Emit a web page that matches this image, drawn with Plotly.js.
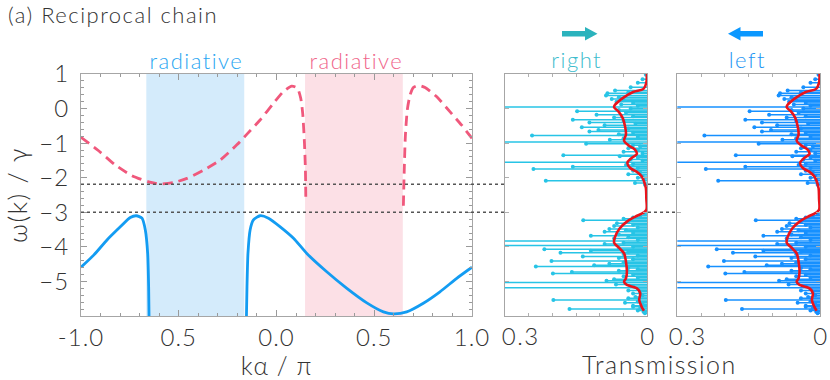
<!DOCTYPE html>
<html>
<head>
<meta charset="utf-8">
<script src="https://cdn.plot.ly/plotly-3.0.1.min.js"></script>
<style>
html,body{margin:0;padding:0;background:#fff;}
#chart{width:830px;height:380px;}
#chart text{letter-spacing:1px;font-variant-ligatures:none;}
#chart .gtitle{letter-spacing:1.5px;}
#chart .annotation-text{letter-spacing:1.5px;}
#chart .ytitle{letter-spacing:1.5px;}
</style>
</head>
<body>
<div id="chart"></div>
<script>
// ---------- dispersion (left panel) ----------
const pinkK = [-1.0,-0.91,-0.825,-0.74,-0.654,-0.595,-0.527,-0.458,-0.373,-0.288,-0.203,-0.151,-0.084,-0.016,0.035,0.078,0.107,0.124,0.134,0.143,0.148,0.150,
  null,
  0.649,0.653,0.659,0.669,0.683,0.700,0.726,0.760,0.820,0.887,0.947,1.0];
const pinkW = [-0.83,-1.22,-1.63,-1.94,-2.12,-2.18,-2.14,-2.02,-1.78,-1.49,-1.05,-0.74,-0.33,0.15,0.49,0.65,0.59,0.30,-0.14,-1.0,-1.78,-2.69,
  null,
  -2.81,-1.87,-0.81,-0.04,0.39,0.61,0.67,0.61,0.34,-0.09,-0.48,-0.86];
const blueK = [-1.0,-0.935,-0.867,-0.799,-0.748,-0.717,-0.688,-0.671,-0.659,-0.654,-0.651,
  null,
  -0.155,-0.151,-0.146,-0.135,-0.118,-0.084,-0.041,0.019,0.087,0.155,0.257,0.360,0.462,0.547,0.598,0.666,0.751,0.836,0.922,1.0];
const blueW = [-4.59,-4.24,-3.80,-3.42,-3.15,-3.10,-3.17,-3.51,-4.19,-5.15,-6.4,
  null,
  -6.4,-5.15,-4.19,-3.51,-3.22,-3.10,-3.17,-3.42,-3.75,-4.19,-4.72,-5.20,-5.62,-5.88,-5.94,-5.88,-5.63,-5.30,-4.91,-4.59];
const blueBand = [-0.666, -0.165];
const pinkBand = [0.146, 0.646];
const gapLines = [-2.19, -3.0];
const xTickVals = [-1, -0.5, 0, 0.5, 1];
const xTickText = ["-1.0", "0.5", "0.0", "0.5", "1.0"];
const yTickVals = [1, 0, -1, -2, -3, -4, -5];

// ---------- transmission (right panels) ----------
const modeE = [0.98,0.85,0.75,0.62,0.52,0.47,0.44,0.38,0.33,0.28,0.24,0.20,0.16,0.12,0.08,0.045,0.00,-0.04,-0.08,-0.12,-0.18,-0.22,-0.26,-0.32,-0.36,-0.40,-0.44,-0.48,-0.54,-0.58,-0.62,-0.66,-0.70,-0.74,-0.78,-0.82,-0.86,-0.90,-0.97,-1.02,-1.06,-1.10,-1.15,-1.20,-1.25,-1.30,-1.35,-1.38,-1.42,-1.47,-1.51,-1.55,-1.60,-1.63,-1.68,-1.72,-1.75,-1.80,-1.85,-1.90,-1.95,-2.00,-2.04,-2.09,-2.15,-2.20,
  -3.05,-3.10,-3.15,-3.19,-3.23,-3.27,-3.32,-3.36,-3.40,-3.44,-3.48,-3.52,-3.56,-3.60,-3.64,-3.68,-3.72,-3.76,-3.80,-3.83,-3.88,-3.92,-3.96,-4.00,-4.03,-4.07,-4.11,-4.14,-4.17,-4.21,-4.25,-4.28,-4.32,-4.36,-4.41,-4.45,-4.49,-4.53,-4.57,-4.61,-4.65,-4.69,-4.73,-4.77,-4.81,-4.85,-4.89,-4.94,-4.98,-5.03,-5.09,-5.13,-5.18,-5.22,-5.26,-5.30,-5.35,-5.40,-5.45,-5.49,-5.54,-5.58,-5.62,-5.66,-5.70,-5.73,-5.77,-5.80,-5.84,-5.88,-5.92];
const transmission = [0.003,0.01,0.02,0.035,0.068,0.04,0.084,0.087,0.06,0.075,0.05,0.065,0.03,0.055,0.02,0.4,0.035,0.06,0.148,0.045,0.107,0.03,0.07,0.157,0.05,0.122,0.025,0.09,0.138,0.04,0.103,0.122,0.03,0.06,0.243,0.02,0.05,0.079,0.4,0.129,0.03,0.015,0.04,0.02,0.05,0.01,0.177,0.058,0.02,0.035,0.01,0.4,0.03,0.045,0.157,0.02,0.240,0.03,0.015,0.04,0.01,0.02,0.008,0.214,0.026,0.005,
  0.005,0.015,0.03,0.05,0.135,0.04,0.064,0.03,0.07,0.02,0.08,0.045,0.09,0.03,0.06,0.119,0.04,0.07,0.02,0.4,0.05,0.09,0.4,0.03,0.06,0.217,0.119,0.04,0.183,0.05,0.02,0.136,0.06,0.03,0.202,0.05,0.08,0.112,0.235,0.04,0.02,0.06,0.159,0.199,0.03,0.05,0.02,0.07,0.086,0.4,0.066,0.03,0.4,0.02,0.04,0.015,0.03,0.01,0.025,0.04,0.198,0.02,0.047,0.01,0.03,0.030,0.015,0.164,0.02,0.008,0.005];
const avgE = [1.0,0.75,0.57,0.48,0.31,0.11,0.04,-0.08,-0.27,-0.51,-0.75,-0.93,-1.06,-1.19,-1.31,-1.43,-1.57,-1.72,-1.83,-1.96,-2.10,-2.30,-2.60,-2.93,-3.01,-3.13,-3.27,-3.46,-3.71,-3.88,-4.01,-4.19,-4.43,-4.72,-4.91,-5.01,-5.10,-5.20,-5.34,-5.54,-5.73,-5.85];
const avgT = [0.001,0.002,0.008,0.030,0.051,0.068,0.070,0.061,0.052,0.047,0.045,0.049,0.040,0.026,0.022,0.033,0.042,0.036,0.022,0.012,0.007,0.003,0.002,0.002,0.008,0.026,0.043,0.058,0.068,0.070,0.061,0.049,0.045,0.043,0.045,0.049,0.043,0.022,0.015,0.017,0.012,0.007];
const tGridVals = [0.3, 0.25, 0.2, 0.15, 0.1, 0.05, 0];
const tLabelText = ["0.3", "0"];

// ---------- styles ----------
const FONT = "Lato, 'Open Sans', sans-serif";
const TXT = "#333333";
const FRAME = "#a6a6a6";
const W = 830, H = 380;
const PX = p => p / W, PY = p => 1 - p / H;
const cyan = "#27c4e6", azure = "#1690ff", red = "#e8141c";

function stems(vals, ens) {
  const xs = [], ys = [];
  for (let i = 0; i < vals.length; i++) { xs.push(0, vals[i], null); ys.push(ens[i], ens[i], null); }
  return {xs, ys};
}
const st = stems(transmission, modeE);

const traces = [
  {x: pinkK, y: pinkW, type: 'scatter', mode: 'lines', xaxis: 'x', yaxis: 'y', connectgaps: false,
   line: {color: '#f0587c', width: 2.8, dash: '10px,6px', shape: 'spline', smoothing: 0.6}, hoverinfo: 'skip'},
  {x: blueK, y: blueW, type: 'scatter', mode: 'lines', xaxis: 'x', yaxis: 'y', connectgaps: false,
   line: {color: '#139cf2', width: 2.8, shape: 'spline', smoothing: 0.6}, hoverinfo: 'skip'},
  {x: st.xs, y: st.ys, type: 'scatter', mode: 'lines', xaxis: 'x2', yaxis: 'y2', line: {color: cyan, width: 1.5}, hoverinfo: 'skip'},
  {x: transmission, y: modeE, type: 'scatter', mode: 'markers', xaxis: 'x2', yaxis: 'y2', marker: {color: cyan, size: 4}, hoverinfo: 'skip'},
  {x: avgT, y: avgE, type: 'scatter', mode: 'lines', xaxis: 'x2', yaxis: 'y2', line: {color: red, width: 2.6, shape: 'spline'}, hoverinfo: 'skip'},
  {x: st.xs, y: st.ys, type: 'scatter', mode: 'lines', xaxis: 'x3', yaxis: 'y3', line: {color: azure, width: 1.5}, hoverinfo: 'skip'},
  {x: transmission, y: modeE, type: 'scatter', mode: 'markers', xaxis: 'x3', yaxis: 'y3', marker: {color: azure, size: 4}, hoverinfo: 'skip'},
  {x: avgT, y: avgE, type: 'scatter', mode: 'lines', xaxis: 'x3', yaxis: 'y3', line: {color: red, width: 2.6, shape: 'spline'}, hoverinfo: 'skip'}
];

const shapes = [
  {type: 'rect', xref: 'x', yref: 'y domain', x0: blueBand[0], x1: blueBand[1], y0: 0, y1: 1, fillcolor: '#d4ebfb', line: {width: 0}, layer: 'below'},
  {type: 'rect', xref: 'x', yref: 'y domain', x0: pinkBand[0], x1: pinkBand[1], y0: 0, y1: 1, fillcolor: '#fce0e6', line: {width: 0}, layer: 'below'}
];
gapLines.forEach(v => {
  shapes.push({type: 'line', xref: 'paper', yref: 'y', x0: PX(81), x1: PX(505), y0: v, y1: v, line: {color: '#555', width: 1.5, dash: '3px,3px'}});
  shapes.push({type: 'line', xref: 'paper', yref: 'y', x0: PX(648), x1: PX(677), y0: v, y1: v, line: {color: '#555', width: 1.5, dash: '3px,3px'}});
});
function poly(pts) { return 'M' + pts.map(p => PX(p[0]) + ',' + PY(p[1])).join(' L') + ' Z'; }
shapes.push({type: 'path', xref: 'paper', yref: 'paper', fillcolor: '#2bb3bd', line: {width: 0},
  path: poly([[562,31],[585,31],[585,27],[597.5,33.8],[585,40.5],[585,36.5],[562,36.5]])});
shapes.push({type: 'path', xref: 'paper', yref: 'paper', fillcolor: '#0b98ff', line: {width: 0},
  path: poly([[763,31],[740.5,31],[740.5,27],[728,33.8],[740.5,40.5],[740.5,36.5],[763,36.5]])});

const yDom = [1 - 316 / H, 1 - 74 / H];
const panelX = (dom) => ({
  domain: dom, range: [0.3, 0], tickvals: tGridVals, showticklabels: false,
  showgrid: true, gridcolor: '#ffffff', gridwidth: 1, zeroline: false,
  showline: true, linecolor: FRAME, linewidth: 1, mirror: 'allticks',
  ticks: 'inside', ticklen: 3, tickcolor: '#b0b0b0', fixedrange: true
});
const panelY = (anchor) => ({
  domain: yDom, range: [-6, 1], anchor: anchor, tickvals: yTickVals, showticklabels: false,
  showgrid: true, gridcolor: '#ffffff', gridwidth: 1, zeroline: false,
  showline: true, linecolor: FRAME, linewidth: 1, mirror: 'allticks',
  ticks: 'inside', ticklen: 4, tickcolor: '#b0b0b0', fixedrange: true
});

const tickFont = {family: FONT, size: 24, color: TXT, weight: 300};
function ann(text, x, y, size, color) {
  return {text: text, xref: 'paper', yref: 'paper', x: PX(x), y: PY(y), showarrow: false, xanchor: 'center', yanchor: 'middle',
          font: {family: FONT, size: size, color: color, weight: 300}};
}

const layout = {
  width: W, height: H, margin: {l: 0, r: 0, t: 0, b: 0, autoexpand: false},
  paper_bgcolor: '#ffffff', plot_bgcolor: '#ffffff', showlegend: false,
  font: {family: FONT, color: TXT, weight: 300},
  title: {text: '(a) Reciprocal chain', x: 8 / W, xanchor: 'left', xref: 'paper', y: 1 - 15 / H, yanchor: 'middle', yref: 'paper',
          font: {family: FONT, size: 22, color: TXT, weight: 300}},
  xaxis: {domain: [81 / W, 472 / W], range: [-1, 1], anchor: 'y', tickvals: xTickVals, ticktext: xTickText,
          showgrid: false, zeroline: false, showline: true, linecolor: FRAME, linewidth: 1, mirror: 'allticks',
          ticks: 'inside', ticklen: 6, tickcolor: '#9a9a9a',
          minor: {dtick: 0.1, tick0: 0, ticks: 'inside', ticklen: 3, tickcolor: '#9a9a9a', showgrid: false},
          tickfont: tickFont,
          title: {text: 'kα / π', standoff: 5, font: {family: FONT, size: 25, color: TXT, weight: 300}}, fixedrange: true},
  yaxis: {domain: yDom, range: [-6, 1], anchor: 'x', tickvals: yTickVals,
          showgrid: false, zeroline: false, showline: true, linecolor: FRAME, linewidth: 1, mirror: 'allticks',
          ticks: 'inside', ticklen: 6, tickcolor: '#9a9a9a', ticklabelstandoff: 6,
          minor: {dtick: 0.2, tick0: 0, ticks: 'inside', ticklen: 3, tickcolor: '#9a9a9a', showgrid: false},
          tickfont: tickFont,
          title: {text: 'ω(k) / γ', standoff: 6, font: {family: FONT, size: 26, color: TXT, weight: 300}}, fixedrange: true},
  xaxis2: Object.assign(panelX([505 / W, 647.3 / W]), {anchor: 'y2'}),
  yaxis2: panelY('x2'),
  xaxis3: Object.assign(panelX([677.3 / W, 820 / W]), {anchor: 'y3'}),
  yaxis3: panelY('x3'),
  shapes: shapes,
  annotations: [
    ann('radiative', 196, 61, 22, '#2aa6f2'),
    ann('radiative', 356, 61, 22, '#f0668a'),
    ann('right', 577, 59, 22, '#3dbccd'),
    ann('left', 747, 59, 22, '#1c95f4'),
    ann(tLabelText[0], 520, 335, 24, TXT),
    ann(tLabelText[1], 648, 335, 24, TXT),
    ann(tLabelText[0], 687, 335, 24, TXT),
    ann(tLabelText[1], 821, 335, 24, TXT),
    ann('Transmission', 659, 364, 25, TXT)
  ]
};

Plotly.newPlot('chart', traces, layout, {staticPlot: true, displayModeBar: false});
</script>
</body>
</html>
